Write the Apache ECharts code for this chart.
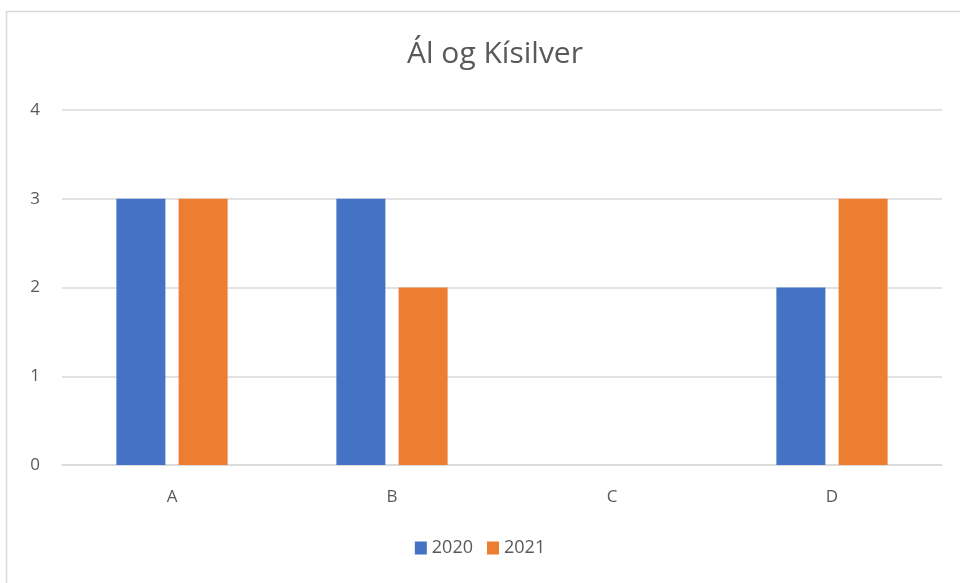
<!DOCTYPE html>
<html>
<head>
	<meta charset="utf-8">
	<title>Ál og Kísilver</title>
	<style>
		html, body { margin: 0; padding: 0; background: #fff; }
		#chart1 { width: 960px; height: 583px; }
	</style>
</head>
<body>
	<div id="chart1"></div>

	<script src="https://cdn.jsdelivr.net/npm/echarts@6/dist/echarts.min.js"></script>
	<script>
	var categories = ['A', 'B', 'C', 'D'];
	var values2020 = [3, 3, 0, 2];
	var values2021 = [3, 2, 0, 3];
	var yTicks = [0, 1, 2, 3, 4];

	var textColor = '#595959';
	var font = '"Open Sans", "Noto Sans", sans-serif';

	var myChart = echarts.init(document.getElementById('chart1'));

	var option = {
		animation: false,
		textStyle: { fontFamily: font },
		graphic: [{
			type: 'rect',
			shape: { x: 6.5, y: 11.5, width: 980, height: 600 },
			style: { fill: 'none', stroke: '#d9d9d9', lineWidth: 1.5 }
		}],
		title: {
			text: 'Ál og Kísilver',
			left: 490,
			textAlign: 'center',
			top: 34,
			textStyle: { color: textColor, fontSize: 30, fontWeight: 'normal', fontFamily: font }
		},
		legend: {
			data: ['2020', '2021'],
			bottom: 21,
			left: 'center',
			itemWidth: 12,
			itemHeight: 13,
			itemGap: 14,
			icon: 'rect',
			textStyle: { color: textColor, fontSize: 18, fontFamily: font }
		},
		grid: { left: 62, right: 18, top: 110, bottom: 118 },
		xAxis: {
			type: 'category',
			data: categories,
			axisLine: { lineStyle: { color: '#d9d9d9', width: 1.5 } },
			axisTick: { show: false },
			axisLabel: { color: textColor, fontSize: 17, margin: 24, fontFamily: font }
		},
		yAxis: {
			type: 'value',
			min: yTicks[0],
			max: yTicks[yTicks.length - 1],
			interval: 1,
			axisLine: { show: false },
			axisTick: { show: false },
			splitLine: { lineStyle: { color: '#d9d9d9', width: 1.5 } },
			axisLabel: { color: textColor, fontSize: 17, margin: 22, fontFamily: font }
		},
		series: [{
			name: '2020',
			type: 'bar',
			data: values2020,
			barWidth: 49,
			barGap: '27%',
			itemStyle: { color: '#4472c4' }
		}, {
			name: '2021',
			type: 'bar',
			data: values2021,
			barWidth: 49,
			itemStyle: { color: '#ed7d31' }
		}]
	};

	myChart.setOption(option);
	</script>
</body>
</html>
